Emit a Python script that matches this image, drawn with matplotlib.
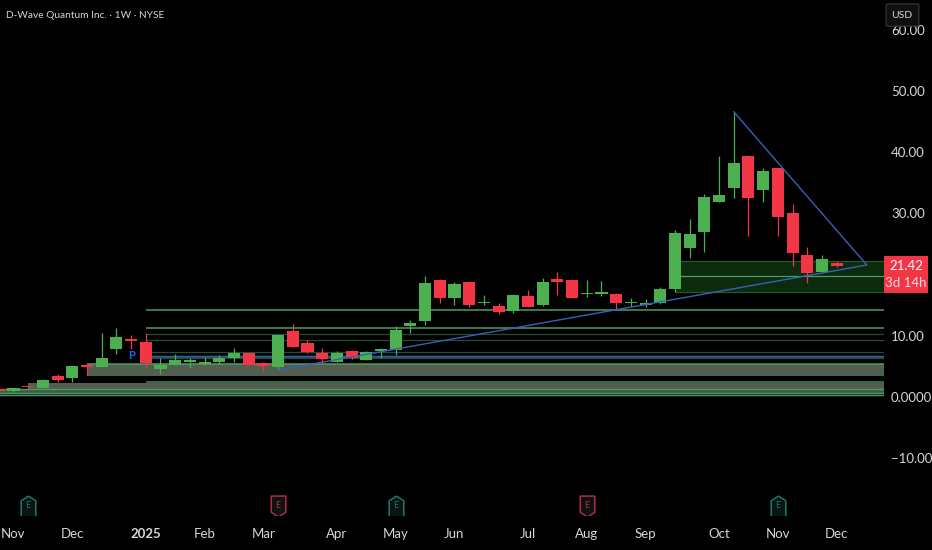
import matplotlib
matplotlib.use("Agg")
import matplotlib.pyplot as plt
from matplotlib.patches import Rectangle, FancyBboxPatch
from matplotlib.path import Path
import numpy as np

W, H = 932, 550
BG = "#000000"
GREEN = "#4caf50"
RED = "#f23645"
TEXT = "#d6d6d6"

# weekly candles, index 0 is the first full bar on screen
opens = [0.92, 1.75, 1.47, 3.37, 3.1, 5.2, 4.95, 7.9, 9.3, 9.04, 4.5, 5.3, 5.8, 5.34, 5.7, 6.37, 7.24, 5.5, 4.85,
         10.84, 8.83, 7.14, 5.78, 7.52, 6.1, 7.57, 7.63, 11.66, 12.42, 19.18, 16.13, 18.74, 15.4, 14.93, 14.0, 16.56,
         14.98, 19.34, 19.17, 16.8, 16.9, 16.9, 15.4, 15.1, 15.36, 17.59, 24.4, 26.9, 31.86, 34.15, 39.43, 33.88,
         37.36, 30.0, 23.15, 20.42, 21.9]
highs = [1.55, 1.8, 2.9, 3.7, 5.12, 5.5, 10.4, 11.3, 10.13, 10.4, 6.3, 7.0, 6.3, 6.5, 6.8, 8.06, 7.24, 5.66, 10.08,
         11.88, 9.3, 7.96, 7.46, 7.6, 7.5, 8.0, 11.6, 12.6, 19.8, 19.3, 18.8, 18.85, 16.67, 15.3, 16.8, 17.5,
         19.4, 20.37, 19.3, 19.1, 19.0, 17.0, 16.2, 15.96, 17.9, 27.29, 29.08, 33.17, 39.38, 46.6, 39.6, 37.36,
         37.36, 31.48, 24.56, 23.2, 22.17]
lows = [0.85, 1.5, 1.4, 2.45, 2.45, 3.6, 4.95, 7.08, 7.84, 4.8, 3.7, 5.3, 4.8, 5.25, 5.4, 5.8, 5.2, 4.3, 4.4,
        8.17, 7.2, 5.45, 5.78, 6.2, 6.05, 6.32, 6.8, 10.4, 11.8, 15.4, 15.1, 14.77, 15.04, 13.5, 13.8, 14.7,
        14.9, 16.67, 16.1, 16.3, 16.5, 14.3, 14.65, 14.7, 15.25, 17.2, 22.71, 23.75, 31.86, 32.57, 26.36, 31.86,
        26.36, 21.46, 18.57, 20.4, 21.3]
closes = [1.47, 1.6, 2.83, 2.83, 5.01, 4.95, 6.32, 9.75, 9.2, 5.6, 5.2, 6.0, 6.0, 5.66, 6.3, 7.13, 5.3, 5.1, 10.08,
          8.17, 7.41, 6.21, 7.14, 6.32, 7.36, 7.8, 10.95, 12.15, 18.69, 16.2, 18.47, 15.09, 15.5, 13.95, 16.67, 14.7,
          18.74, 18.79, 16.23, 16.94, 17.0, 15.4, 15.58, 15.25, 17.7, 26.74, 26.63, 32.62, 32.95, 38.2, 32.52, 36.98,
          29.36, 23.5, 20.2, 22.55, 21.42]

# partly visible bar at the left edge
edge_bar = [-1, 1.1, 1.25, 0.95, 0.95]

month_bars = [0, 4, 9, 13, 17, 22, 26, 30, 35, 39, 43, 48, 52, 56]
month_labels = ["Nov", "Dec", "2025", "Feb", "Mar", "Apr", "May", "Jun", "Jul", "Aug", "Sep", "Oct", "Nov", "Dec"]

price_ticks = [-10, 0, 10, 30, 40, 50, 60]
price_labels = ["\u221210.00", "0.0000", "10.00", "30.00", "40.00", "50.00", "60.00"]

# horizontal levels drawn on the chart
strong_levels = [14.2, 11.35, 5.47, 2.5, 1.26, 0.7, 0.3]
faint_levels = [10.35, 9.3, 7.4, 6.37, 6.6]
blue_level = 6.78
zones = [(5, 3.48, 5.47, "#505f4e"), (1, 1.26, 2.24, "#505f4e"), (-1, 0.41, 1.26, "#3f5a40")]

# trend lines (bar, price)
peak = (49, 46.6)
apex = (58.05, 21.57)
base = (18, 4.4)

earnings_bars = [1, 18, 26, 39, 52]
earnings_beat = [True, False, True, False, True]

plt.rcParams["font.family"] = ["Lato", "DejaVu Sans"]

fig = plt.figure(figsize=(W / 100, H / 100), dpi=100, facecolor=BG)
ax = fig.add_axes([0, 35 / H, 884 / W, 515 / H], facecolor=BG)
ax.set_xlim(-0.918, 59.22)
ax.set_ylim(-19.28, 64.87)
for s in ax.spines.values():
    s.set_visible(False)

# zones and levels go under the candles
end = 59.22
for start, lo, hi, col in zones:
    ax.fill_between([start, end], lo, hi, color=col, lw=0, zorder=1)
ax.hlines(strong_levels[:2], 9, end, color="#4f9a68", lw=1.1, zorder=2)
ax.hlines(strong_levels[2], 5, end, color="#4f9a68", lw=1.1, zorder=2)
ax.hlines(strong_levels[3], 9, end, color="#3f8a5c", lw=1.1, zorder=2)
ax.hlines(strong_levels[4:], -1, end, color="#4f9a68", lw=1.0, zorder=2)
ax.hlines(faint_levels, 9, end, color="#244d34", lw=0.9, zorder=2)
ax.hlines(blue_level, 9, end, color="#2f5fc4", lw=1.0, zorder=2)

# consolidation box on the right
ax.fill_between([45, end], 17.2, 22.27, color="#0c2a0c", lw=0, zorder=1)
ax.hlines([17.2, 22.27], 45, end, color="#1f5a26", lw=0.9, zorder=2)
ax.hlines(19.77, 45, end, color="#4f9a68", lw=0.9, zorder=2)

bars = np.arange(len(opens))
o = np.array(opens)
c = np.array(closes)
colors = [GREEN if cl >= op else RED for op, cl in zip(opens, closes)]
ax.vlines(bars, lows, highs, color=colors, lw=0.9, zorder=3)
ax.bar(bars, np.maximum(np.abs(c - o), 0.2), bottom=np.minimum(o, c), width=0.82, color=colors, lw=0, zorder=4)
ax.bar(edge_bar[0], 0.3, bottom=edge_bar[4], width=0.82, color=RED, lw=0, zorder=4)

ax.plot([base[0], apex[0], peak[0]], [base[1], apex[1], peak[1]], color="#3a5fb8", lw=1.0, zorder=5)

ax.text(8, 6.75, "P", color="#2962ff", fontsize=8, fontweight="bold", ha="center", va="center", zorder=6,
        bbox=dict(fc=BG, ec="none", pad=0.5))

# earnings flags near the bottom of the pane
house = Path([(-0.7, -1), (0.7, -1), (0.7, 0.55), (0, 1), (-0.7, 0.55), (-0.7, -1)], closed=True)
flag = Path([(-0.7, 1), (0.7, 1), (0.7, -0.55), (0, -1), (-0.7, -0.55), (-0.7, 1)], closed=True)
flag_y = -17.8
for b, beat in zip(earnings_bars, earnings_beat):
    col = "#1f7a64" if beat else "#b32a45"
    ax.plot(b, flag_y, marker=house if beat else flag, ms=15, mfc="#0b1412", mec=col, mew=1.1, ls="", zorder=6)
    ax.text(b, flag_y, "E", color=col, fontsize=6.5, ha="center", va="center", zorder=7)

ax.set_xticks(month_bars, month_labels)
ax.set_yticks(price_ticks, price_labels)
ax.yaxis.tick_right()
ax.tick_params(axis="both", length=0, labelcolor=TEXT, labelsize=9.5)
ax.tick_params(axis="x", pad=9)
ax.tick_params(axis="y", pad=5)
ax.get_xticklabels()[2].set_fontweight("bold")


def px(x, y):
    return x / W, 1 - y / H


fig.text(*px(6, 15), "D-Wave Quantum Inc. \u00b7 1W \u00b7 NYSE", color=TEXT, fontsize=7.3, va="center")

# last price tag
fig.add_artist(Rectangle(px(884, 293), 44 / W, 37 / H, transform=fig.transFigure, color=RED, lw=0, zorder=5))
fig.text(*px(906, 266), "21.42", color="white", fontsize=9.5, ha="center", va="center", zorder=6)
fig.text(*px(906, 283), "3d 14h", color="#ffd9de", fontsize=9.5, ha="center", va="center", zorder=6)

# currency button sits on top of the 60.00 label
fig.add_artist(FancyBboxPatch(px(888, 25), 29 / W, 20 / H, boxstyle="round,pad=0.002", transform=fig.transFigure,
                              fc="#0f0f0f", ec="#3a3a3a", lw=0.8, zorder=5))
fig.text(*px(902, 15), "USD", color=TEXT, fontsize=7.5, ha="center", va="center", zorder=6)

fig.savefig("out.png", dpi=100, facecolor=BG)
